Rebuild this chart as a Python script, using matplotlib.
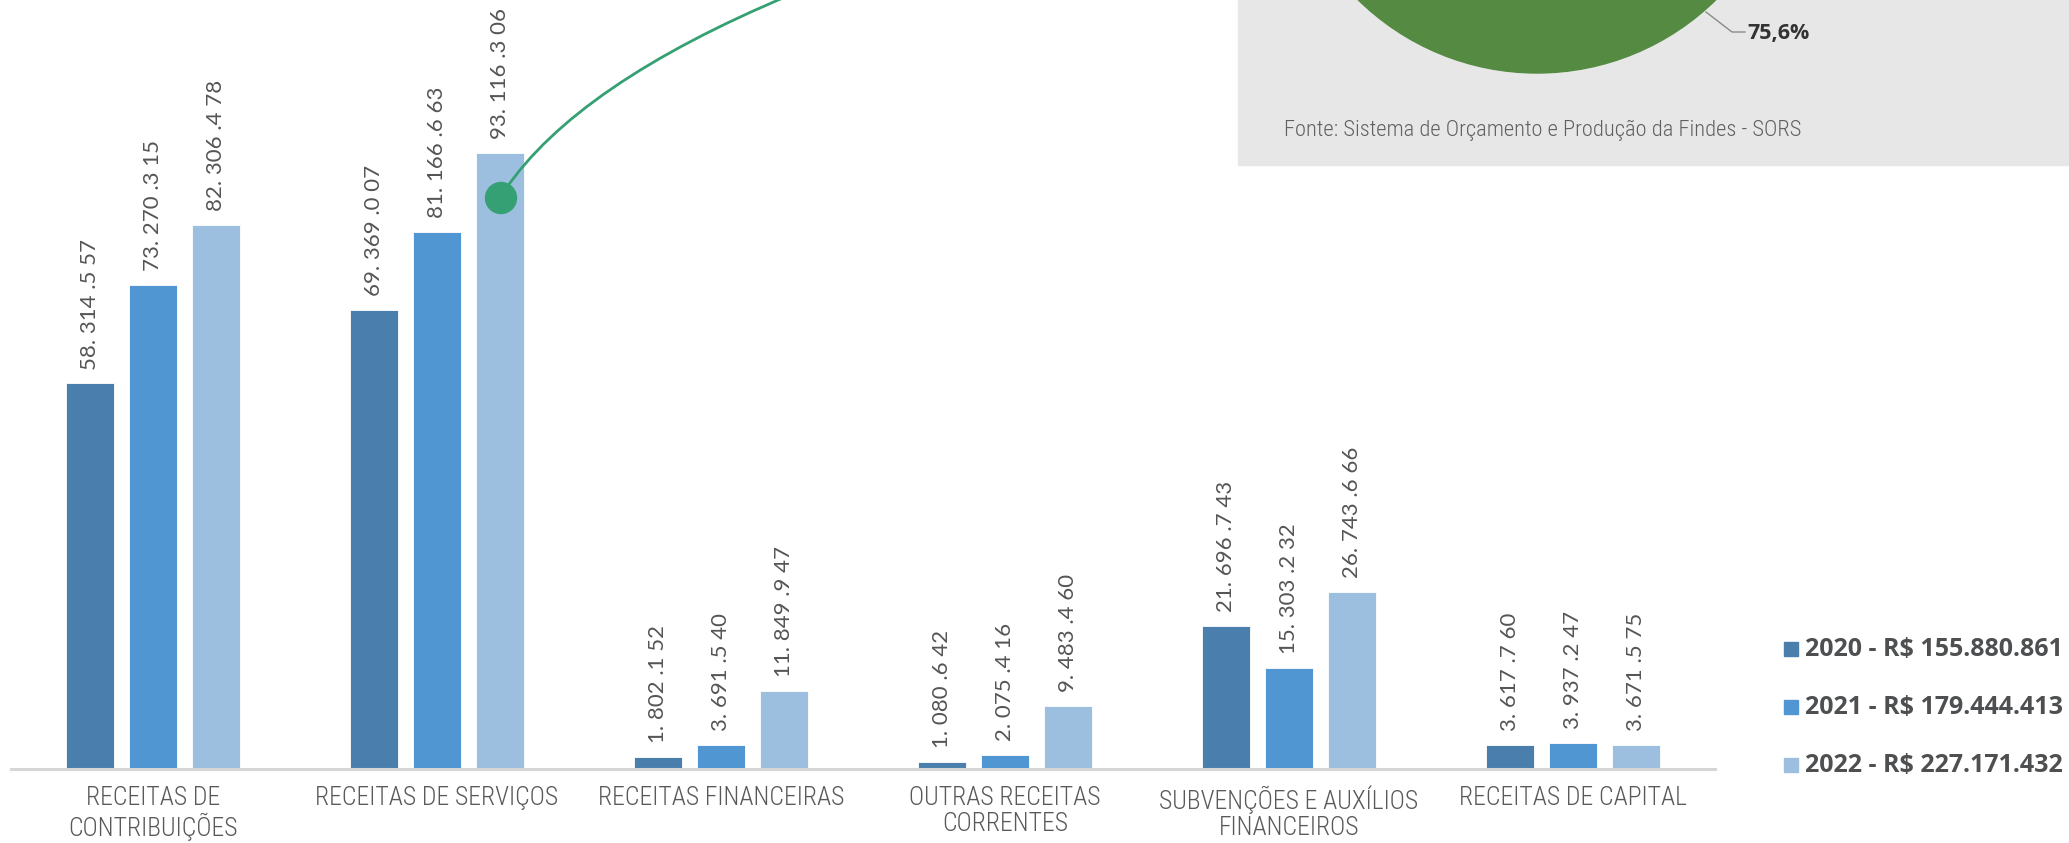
import numpy as np
import matplotlib
matplotlib.use("Agg")
from matplotlib import pyplot as plt
from matplotlib import font_manager
from matplotlib.patches import Rectangle, Circle, PathPatch
from matplotlib.path import Path

categories = ['RECEITAS DE\nCONTRIBUIÇÕES', 'RECEITAS DE SERVIÇOS', 'RECEITAS FINANCEIRAS',
              'OUTRAS RECEITAS\nCORRENTES', 'SUBVENÇÕES E AUXÍLIOS\nFINANCEIROS', 'RECEITAS DE CAPITAL']
v2020 = [58314557, 69369007, 1802152, 1080642, 21696743, 3617760]
v2021 = [73270315, 81166663, 3691540, 2075416, 15303232, 3937247]
v2022 = [82306478, 93116306, 11849947, 9483460, 26743666, 3671575]
lab2020 = ['58. 314 .5 57', '69. 369 .0 07', '1. 802 .1 52', '1. 080 .6 42', '21. 696 .7 43', '3. 617 .7 60']
lab2021 = ['73. 270 .3 15', '81. 166 .6 63', '3. 691 .5 40', '2. 075 .4 16', '15. 303 .2 32', '3. 937 .2 47']
lab2022 = ['82. 306 .4 78', '93. 116 .3 06', '11. 849 .9 47', '9. 483 .4 60', '26. 743 .6 66', '3. 671 .5 75']
legend_labels = ['2020 - R$ 155.880.861', '2021 - R$ 179.444.413', '2022 - R$ 227.171.432']
pie_label = '75,6%'
source = 'Fonte: Sistema de Orçamento e Produção da Findes - SORS'

colors = ['#4a7fad', '#4f96d2', '#9dbfdf']
green = '#35a073'

available = {f.name for f in font_manager.fontManager.ttflist}


def pick(*names):
    for n in names:
        if n in available:
            return n
    return 'DejaVu Sans'


narrow = pick('Roboto Condensed', 'Liberation Sans Narrow', 'Open Sans Condensed', 'Lato', 'DejaVu Sans')
light = pick('Lato', 'Open Sans', 'DejaVu Sans')
bold = pick('Open Sans', 'Noto Sans', 'DejaVu Sans')

W, H = 2069, 843
fig = plt.figure(figsize=(W / 100, H / 100), dpi=100)
fig.patch.set_facecolor('white')

# main bar axes
ax = fig.add_axes([11 / W, 74 / H, 1704 / W, 769 / H])
ax.set_facecolor('none')
x = np.arange(len(categories))
step, width = 0.222, 0.172
series = [v2020, v2021, v2022]
labels = [lab2020, lab2021, lab2022]
for k in range(3):
    bars = ax.bar(x + (k - 1) * step, series[k], width, color=colors[k],
                  edgecolor='white', linewidth=0.6, zorder=2)
    for b, t in zip(bars, labels[k]):
        ax.annotate(t, (b.get_x() + b.get_width() / 2, b.get_height()),
                    xytext=(0, 10), textcoords='offset points', rotation=90,
                    ha='center', va='bottom', fontsize=16, color='#555555',
                    family=light, fontweight='normal')

ax.set_xlim(-0.5, 5.5)
ax.set_ylim(0, 116.3e6)
for s in ['top', 'right', 'left']:
    ax.spines[s].set_visible(False)
ax.spines['bottom'].set_color('#d6d6d6')
ax.spines['bottom'].set_linewidth(2.2)
ax.set_yticks([])
ax.set_xticks(x)
ax.set_xticklabels(categories, fontsize=18.5, color='#595959', family=narrow,
                   fontweight='light', linespacing=1.12)
ax.tick_params(axis='x', length=0, pad=12)

# overlay in pixel coordinates for decorations
ov = fig.add_axes([0, 0, 1, 1])
ov.set_xlim(0, W)
ov.set_ylim(H, 0)
ov.axis('off')
ov.set_facecolor('none')

ov.add_patch(Rectangle((1238, -5), W - 1238 + 5, 170, color='#e6e7e6', zorder=0))
ov.add_patch(Circle((1537, -182), 255, color='#548a42', zorder=1))
ov.plot([1706, 1732, 1745], [12, 32, 32], color='#8a8a8a', lw=1.0, zorder=2)
ov.text(1747, 33, pie_label, fontsize=15.5, fontweight='bold', color='#333333',
        family=bold, va='center', ha='left')
ov.text(1284, 130, source, fontsize=16.2, color='#5f6062', family=narrow,
        fontweight='light', va='center', ha='left')

# legend
for k, (lab, yy) in enumerate(zip(legend_labels, [649, 707, 765])):
    ov.add_patch(Rectangle((1784, yy - 7), 14, 14, color=colors[k]))
    ov.text(1805, yy, lab, fontsize=18, fontweight='bold', color='#4d4f51',
            family=bold, va='center', ha='left')

# green callout curve and dot
curve = Path([(505, 190), (577, 84), (790, -5)], [Path.MOVETO, Path.CURVE3, Path.CURVE3])
ov.add_patch(PathPatch(curve, fill=False, edgecolor=green, lw=2.0, zorder=5))
ov.add_patch(Circle((501, 198), 15.5, color=green, zorder=6))

fig.savefig('out.png', dpi=100, facecolor='white')
